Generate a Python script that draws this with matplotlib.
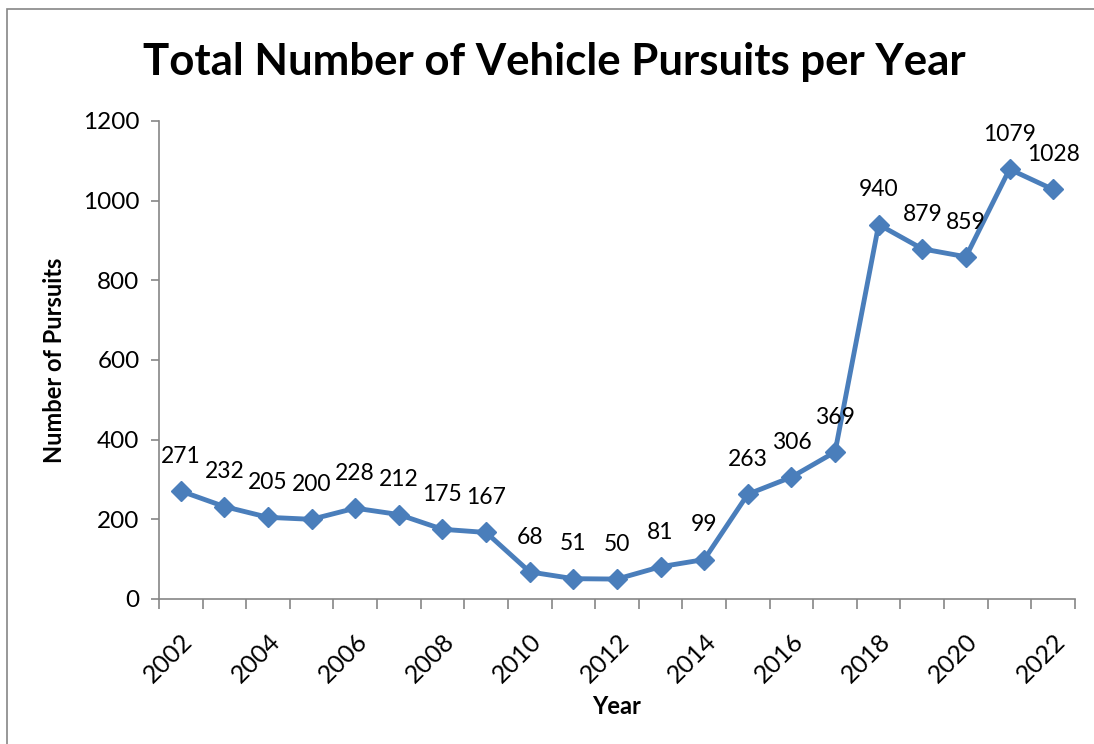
import matplotlib
matplotlib.use('Agg')
import matplotlib.pyplot as plt
from matplotlib.patches import Rectangle
import numpy as np

plt.rcParams['font.family'] = ['Lato', 'DejaVu Sans']

years = [str(y) for y in range(2002, 2023)]
pursuits = [271, 232, 205, 200, 228, 212, 175, 167, 68, 51, 50,
            81, 99, 263, 306, 369, 940, 879, 859, 1079, 1028]
y_ticks = [0, 200, 400, 600, 800, 1000, 1200]

line_col = '#4A7EBB'
axis_col = '#868686'

fig = plt.figure(figsize=(10.94, 7.44), dpi=100)
fig.patches.append(Rectangle((7 / 1094, -0.05), 1.1, 1 - 9 / 744 + 0.05,
                             transform=fig.transFigure, fill=False,
                             edgecolor=axis_col, linewidth=1.2))
ax = fig.add_axes([0.1453, 0.1949, 0.8373, 0.6425])

x = np.arange(len(years))
ax.plot(x, pursuits, color=line_col, linewidth=3.5, marker='D',
        markersize=10, markerfacecolor=line_col, markeredgecolor=line_col)

for xi, v in zip(x, pursuits):
    ax.annotate(str(v), (xi, v), xytext=(0, 25), textcoords='offset points',
                ha='center', va='center', fontsize=16.5)

ax.set_xlim(-0.5, len(years) - 0.5)
ax.set_ylim(0, 1200)
ax.set_yticks(y_ticks)
ax.tick_params(axis='y', labelsize=17.5, length=6, color=axis_col, width=1.2, pad=8)

# category boundaries as tick marks, labels every other year at centres
ax.set_xticks(np.arange(-0.5, len(years), 1))
ax.set_xticklabels([])
ax.tick_params(axis='x', which='major', length=7, color=axis_col, width=1.2)
ax.set_xticks(x[::2], minor=True)
ax.set_xticklabels(years[::2], minor=True, rotation=45, ha='right',
                   rotation_mode='anchor', fontsize=18)
ax.tick_params(axis='x', which='minor', length=0, pad=22)

for s in ['top', 'right']:
    ax.spines[s].set_visible(False)
for s in ['left', 'bottom']:
    ax.spines[s].set_color(axis_col)
    ax.spines[s].set_linewidth(1.2)

ax.set_xlabel('Year', fontsize=17, fontweight='bold', labelpad=6)
ax.set_ylabel('Number of Pursuits', fontsize=17, fontweight='bold', labelpad=12)

fig.text(0.507, 0.916, 'Total Number of Vehicle Pursuits per Year',
         ha='center', va='center', fontsize=31.5, fontweight='bold')

fig.savefig('out.png', dpi=100)
